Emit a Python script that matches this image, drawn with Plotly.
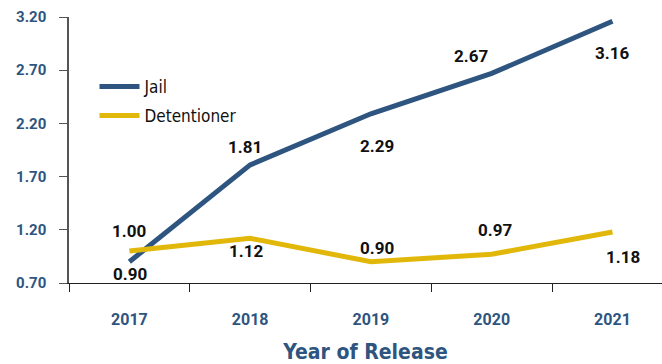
import plotly.graph_objects as go

years = ["2017", "2018", "2019", "2020", "2021"]
jail = [0.90, 1.81, 2.29, 2.67, 3.16]
detentioner = [1.00, 1.12, 0.90, 0.97, 1.18]
y_ticks = [0.70, 1.20, 1.70, 2.20, 2.70, 3.20]

# label placement per point: (xshift, yshift) in pixels
jail_label_pos = [(1, -12), (-5, 18), (6, -32), (-21, 17), (0, -32)]
det_label_pos = [(0, 20), (-4, -13), (6, 14), (3, 24), (11, -25)]

NAVY = "#2E5580"
GOLD = "#E1B80A"
COND = "DejaVu Sans Condensed, sans-serif"
BOLD = "Roboto, DejaVu Sans Condensed, sans-serif"

fig = go.Figure()
fig.add_trace(go.Scatter(x=years, y=jail, mode="lines", name="Jail",
                         legendgroup="a", line=dict(color=NAVY, width=5)))
fig.add_trace(go.Scatter(x=years, y=detentioner, mode="lines", name="Detentioner",
                         legendgroup="b", line=dict(color=GOLD, width=5)))

# value labels; category positions given by index
for series, pos in ((jail, jail_label_pos), (detentioner, det_label_pos)):
    for i, (v, (dx, dy)) in enumerate(zip(series, pos)):
        fig.add_annotation(x=i, y=v, xref="x", yref="y",
                           text=f"<b>{v:.2f}</b>", showarrow=False,
                           xshift=dx, yshift=dy,
                           font=dict(family=BOLD, size=17, color="#111111"))

fig.update_layout(
    width=662, height=364,
    margin=dict(l=69, r=0, t=17, b=81),
    paper_bgcolor="white", plot_bgcolor="white",
    font=dict(family=COND),
    legend=dict(x=0.043, y=0.805, xanchor="left", yanchor="top",
                bgcolor="rgba(0,0,0,0)", font=dict(size=17, color="#111111"),
                itemwidth=40, tracegroupgap=4),
    showlegend=True,
)
fig.update_xaxes(
    type="category", range=[-0.5, 4.41],
    showline=True, linecolor="#222222", linewidth=1,
    ticks="outside", tickson="boundaries", ticklen=8, tickcolor="#222222",
    showgrid=False, ticklabelstandoff=22,
    tickfont=dict(family=BOLD, size=16, color=NAVY, weight="bold"),
    title=dict(text="<b>Year of Release</b>", standoff=21,
               font=dict(family=COND, size=21, color=NAVY)),
)
fig.update_yaxes(
    range=[0.70, 3.20], tickvals=y_ticks, ticktext=[f"{t:.2f}" for t in y_ticks],
    showline=True, linecolor="#555555", linewidth=1.5,
    ticks="outside", ticklen=8, tickcolor="#555555",
    showgrid=False, zeroline=False, ticklabelstandoff=10,
    tickfont=dict(family=BOLD, size=15, color=NAVY, weight="bold"),
)

fig.write_html("out.html")
